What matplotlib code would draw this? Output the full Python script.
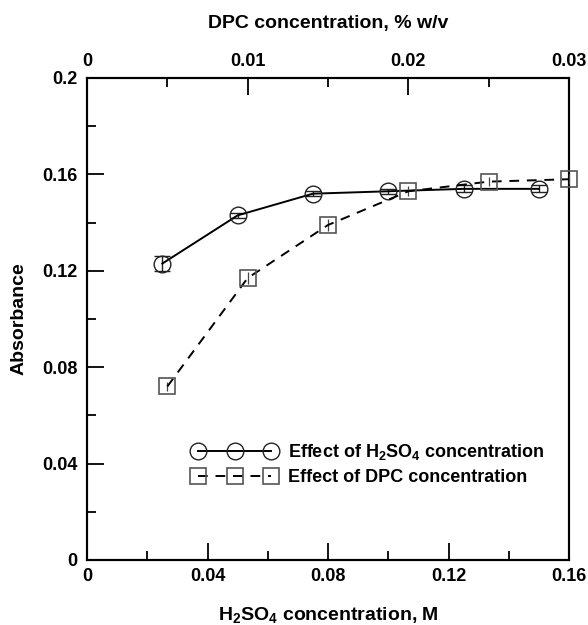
import matplotlib
matplotlib.use("Agg")
import matplotlib.pyplot as plt
from matplotlib.ticker import MultipleLocator, FuncFormatter
from matplotlib.lines import Line2D

plt.rcParams['font.family'] = ['Liberation Sans', 'DejaVu Sans']
plt.rcParams['font.weight'] = 'bold'
plt.rcParams['mathtext.fontset'] = 'custom'
plt.rcParams['mathtext.bf'] = 'Liberation Sans:bold'
plt.rcParams['mathtext.rm'] = 'Liberation Sans:bold'
plt.rcParams['mathtext.default'] = 'bf'

# H2SO4 series (bottom axis, M)
h2so4_conc = [0.025, 0.05, 0.075, 0.10, 0.125, 0.15]
h2so4_abs = [0.123, 0.143, 0.152, 0.153, 0.154, 0.154]
h2so4_err = [0.003, 0.001, 0.001, 0.001, 0.0015, 0.0015]

# DPC series (top axis, % w/v)
dpc_conc = [0.005, 0.010, 0.015, 0.020, 0.025, 0.030]
dpc_abs = [0.072, 0.117, 0.139, 0.153, 0.157, 0.158]
dpc_err = [0.002, 0.0025, 0.0025, 0.002, 0.002, 0.002]

label_h2so4 = r'Effect of H$_2$SO$_4$ concentration'
label_dpc = 'Effect of DPC concentration'

fig = plt.figure(figsize=(5.88, 6.25), dpi=100)
ax = fig.add_axes([87/588, 65/625, 482/588, 482/625])
ax2 = ax.twiny()

fmt = FuncFormatter(lambda v, p: f'{v:g}')

ax.set_xlim(0, 0.16)
ax.set_ylim(0, 0.2)
ax2.set_xlim(0, 0.03)

ax.xaxis.set_major_locator(MultipleLocator(0.04))
ax.xaxis.set_minor_locator(MultipleLocator(0.02))
ax.yaxis.set_major_locator(MultipleLocator(0.04))
ax.yaxis.set_minor_locator(MultipleLocator(0.02))
ax2.xaxis.set_major_locator(MultipleLocator(0.01))
ax2.xaxis.set_minor_locator(MultipleLocator(0.005))
ax.xaxis.set_major_formatter(fmt)
ax.yaxis.set_major_formatter(fmt)
ax2.xaxis.set_major_formatter(fmt)

for a in (ax, ax2):
    a.tick_params(which='major', direction='in', length=12, width=1.3, labelsize=13, pad=6)
    a.tick_params(which='minor', direction='in', length=6.5, width=1.3)
    for s in a.spines.values():
        s.set_linewidth(1.5)
ax.tick_params(axis='y', pad=7)

eb1 = ax.errorbar(h2so4_conc, h2so4_abs, yerr=h2so4_err, fmt='-o', color='black',
                  markerfacecolor='none', markeredgecolor='#222222', markersize=12,
                  markeredgewidth=1.0, linewidth=1.4, ecolor='#222222', elinewidth=1.0,
                  capsize=5.5, capthick=1.0, zorder=3)
eb2 = ax2.errorbar(dpc_conc, dpc_abs, yerr=dpc_err, fmt='--s', color='black',
                   markerfacecolor='none', markeredgecolor='#555555', markersize=12,
                   markeredgewidth=1.2, linewidth=1.4, dashes=(5, 4), ecolor='#444444',
                   elinewidth=0.9, capsize=0, zorder=3)
for eb in (eb1, eb2):
    eb.lines[0].set_clip_on(False)
    for c in eb.lines[2]:
        c.set_clip_on(False)

ax.set_ylabel('Absorbance', fontsize=14, fontweight='bold', labelpad=10)
ax.set_xlabel(r'H$_2$SO$_4$ concentration, M', fontsize=14, fontweight='bold', labelpad=14)
ax2.set_xlabel('DPC concentration, % w/v', fontsize=14, fontweight='bold', labelpad=18)

handles = [
    Line2D([], [], color='black', linestyle='-', linewidth=1.4, marker='o',
           markersize=12, markerfacecolor='none', markeredgecolor='#222222', markeredgewidth=1.0),
    Line2D([], [], color='black', linestyle='--', dashes=(5, 4), linewidth=1.4, marker='s',
           markersize=12, markerfacecolor='none', markeredgecolor='#555555', markeredgewidth=1.2),
]
ax.legend(handles, [label_h2so4, label_dpc], loc='center left',
          bbox_to_anchor=(0.22, 0.199), frameon=False, numpoints=3,
          handlelength=4.6, handletextpad=0.65, borderpad=0, borderaxespad=0,
          labelspacing=0.4, prop={'size': 13, 'weight': 'bold'})

fig.savefig('out.png', dpi=100)
